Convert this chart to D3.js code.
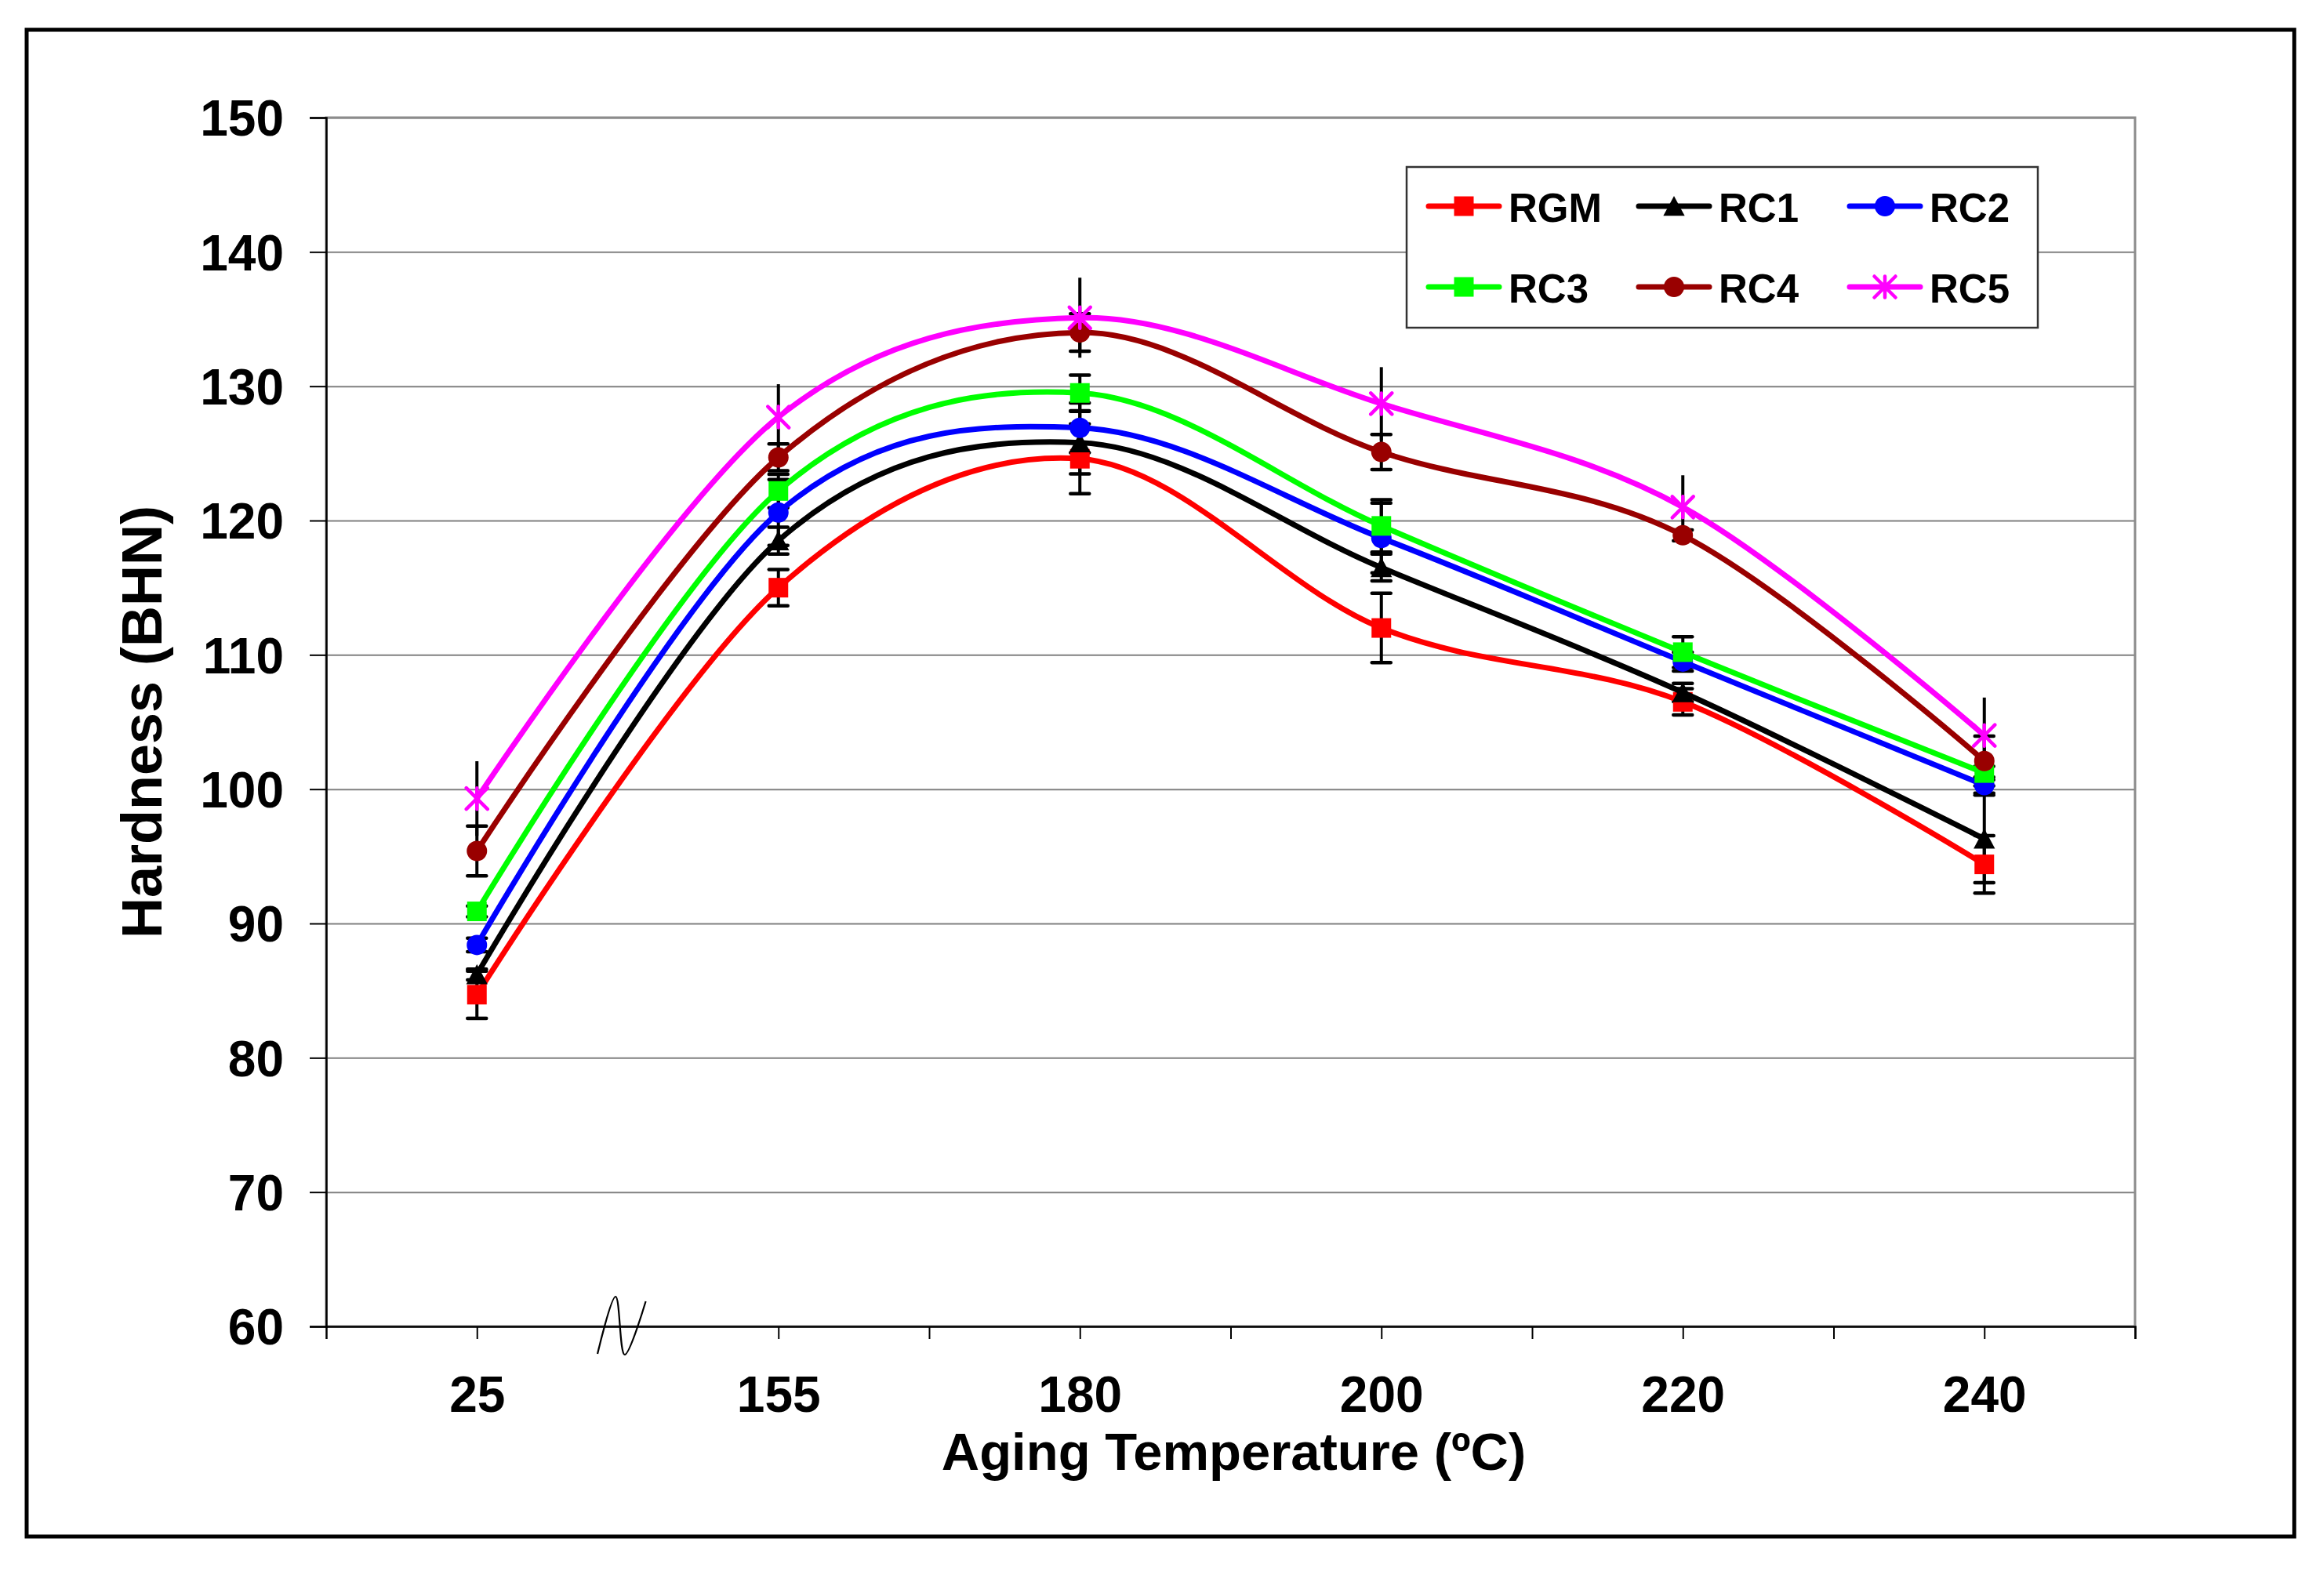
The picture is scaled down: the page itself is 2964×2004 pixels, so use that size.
<!DOCTYPE html>
<html>
<head>
<meta charset="utf-8">
<script src="https://cdn.jsdelivr.net/npm/d3@7/dist/d3.min.js"></script>
<style>
  html, body { margin: 0; padding: 0; background: #fff; }
  svg { display: block; }
  text { font-family: "Liberation Sans", Arial, sans-serif; font-weight: bold; fill: #000; }
</style>
</head>
<body>
<svg id="chart" width="2964" height="2004"></svg>
<script>
// ---------------- data ----------------
const categories = ["25", "155", "180", "200", "220", "240"];
const yTicks = [60, 70, 80, 90, 100, 110, 120, 130, 140, 150];
const seriesNames = ["RGM", "RC1", "RC2", "RC3", "RC4", "RC5"];
const rgm = [84.7, 115.0, 124.6, 112.0, 106.5, 94.4];
const rc1 = [86.2, 118.5, 125.8, 116.5, 107.2, 96.3];
const rc2 = [88.4, 120.6, 126.9, 118.7, 109.5, 100.3];
const rc3 = [90.9, 122.2, 129.5, 119.6, 110.2, 101.2];
const rc4 = [95.4, 124.7, 134.0, 125.1, 118.9, 102.1];
const rc5 = [99.3, 127.7, 135.1, 128.7, 121.0, 104.0];
const rgmErr = [1.76, 1.35, 2.6, 2.58, 0.98, 2.14];
const rc1Err = [0.4, 1.0, 2.33, 1.0, 0.68, 3.26];
const rc2Err = [0.5, 2.45, 1.85, 2.6, 0.7, 0.6];
const rc3Err = [0.4, 1.25, 1.33, 1.95, 1.14, 0.5];
const rc4Err = [1.85, 1.0, 1.4, 1.3, 0.4, 1.85];
const rc5Err = [2.78, 2.45, 2.98, 2.72, 2.37, 2.82];

// ---------------- styling ----------------
const colors = ["#FF0000", "#000000", "#0000FF", "#00FF00", "#990000", "#FF00FF"];
const markerKinds = ["square", "triangle", "circle", "square", "circle", "star"];
const hasCaps = [true, true, true, true, true, false];
const values = [rgm, rc1, rc2, rc3, rc4, rc5];
const errors = [rgmErr, rc1Err, rc2Err, rc3Err, rc4Err, rc5Err];

const L = 416, R = 2723, T = 150, B = 1692;
const svg = d3.select("#chart");
svg.append("rect").attr("width", 2964).attr("height", 2004).attr("fill", "#fff");

// outer border
svg.append("rect").attr("x", 34).attr("y", 38).attr("width", 2892).attr("height", 1922)
  .attr("fill", "none").attr("stroke", "#000").attr("stroke-width", 5);

const x = d3.scaleLinear().domain([-0.5, 5.5]).range([L, R]);
const y = d3.scaleLinear().domain([60, 150]).range([B, T]);

// gridlines
svg.append("g").attr("transform", `translate(${L},0)`)
  .call(d3.axisLeft(y).tickValues(yTicks.slice(1)).tickSize(-(R - L)).tickFormat(""))
  .call(g => g.select(".domain").remove())
  .call(g => g.selectAll("line").attr("stroke", "#808080").attr("stroke-width", 2));

// plot frame
svg.append("rect").attr("x", L).attr("y", T).attr("width", R - L).attr("height", B - T)
  .attr("fill", "none").attr("stroke", "#8c8c8c").attr("stroke-width", 3);

// y axis ticks
svg.append("g").attr("transform", `translate(${L},0)`)
  .call(d3.axisLeft(y).tickValues(yTicks).tickSize(21).tickFormat(""))
  .call(g => g.select(".domain").attr("stroke", "#000").attr("stroke-width", 2.5))
  .call(g => g.selectAll("line").attr("stroke", "#000").attr("stroke-width", 2));

// y labels
svg.append("g").attr("transform", `translate(${L},0)`)
  .call(d3.axisLeft(y).tickValues(yTicks).tickSize(0).tickPadding(54))
  .call(g => g.select(".domain").remove())
  .call(g => g.selectAll("text").attr("font-size", 64).attr("dy", "0.355em")
    .attr("font-family", "'Liberation Sans', Arial, sans-serif").attr("font-weight", "bold"));

// x axis ticks (half-category ticks, the one at the break is hidden)
const xTickVals = d3.range(0, 12).map(i => i * 0.5).filter(v => v !== 0.5);
svg.append("g").attr("transform", `translate(0,${B})`)
  .call(d3.axisBottom(x).tickValues(xTickVals).tickSize(16).tickFormat(""))
  .call(g => g.select(".domain").attr("stroke", "#000").attr("stroke-width", 2.5))
  .call(g => g.selectAll("line").attr("stroke", "#000").attr("stroke-width", 2));

// x labels
svg.append("g").attr("transform", `translate(0,${B})`)
  .call(d3.axisBottom(x).tickValues(d3.range(categories.length)).tickSize(0).tickPadding(64)
    .tickFormat(i => categories[i]))
  .call(g => g.select(".domain").remove())
  .call(g => g.selectAll("text").attr("font-size", 64)
    .attr("font-family", "'Liberation Sans', Arial, sans-serif").attr("font-weight", "bold"));

// axis break symbol
const brk = [[0.40, 1727], [0.46, 1654], [0.49, 1728], [0.56, 1660]];
svg.append("path")
  .attr("d", d3.line().x(d => x(d[0])).y(d => d[1]).curve(d3.curveCatmullRom.alpha(0.5))(brk))
  .attr("fill", "none").attr("stroke", "#000").attr("stroke-width", 2.2);

// axis titles
svg.append("text").attr("x", (L + R) / 2 + 4).attr("y", 1875).attr("text-anchor", "middle")
  .attr("font-size", 67).text("Aging Temperature (ºC)");
svg.append("text").attr("transform", "translate(206,921) rotate(-90)").attr("text-anchor", "middle")
  .attr("font-size", 72).text("Hardness (BHN)");

// ---------------- marker symbols ----------------
const triangleSym = { draw(ctx, size) { const h = Math.sqrt(size) / 2; ctx.moveTo(0, -h * 1.0); ctx.lineTo(h * 1.05, h * 0.95); ctx.lineTo(-h * 1.05, h * 0.95); ctx.closePath(); } };
const starSym = { draw(ctx, size) { const h = Math.sqrt(size) / 2; ctx.moveTo(0, -h); ctx.lineTo(0, h); ctx.moveTo(-h, -h); ctx.lineTo(h, h); ctx.moveTo(-h, h); ctx.lineTo(h, -h); } };
function markerPath(kind, scale) {
  const s = scale || 1;
  if (kind === "square") return d3.symbol().type(d3.symbolSquare).size(25 * 25 * s * s)();
  if (kind === "circle") return d3.symbol().type(d3.symbolCircle).size(Math.PI * 13 * 13 * s * s)();
  if (kind === "triangle") return d3.symbol().type(triangleSym).size(26 * 26 * s * s)();
  return d3.symbol().type(starSym).size(27 * 27 * s * s)();
}
function drawMarker(g, kind, color, cx, cy, scale) {
  const p = g.append("path").attr("d", markerPath(kind, scale)).attr("transform", `translate(${cx},${cy})`);
  if (kind === "star") p.attr("fill", "none").attr("stroke", color).attr("stroke-width", 4.5).attr("stroke-linecap", "round");
  else p.attr("fill", color);
}

// ---------------- error bars ----------------
const eg = svg.append("g");
values.forEach((vals, s) => {
  vals.forEach((v, i) => {
    const e = errors[s][i];
    const cx = x(i);
    eg.append("line").attr("x1", cx).attr("x2", cx).attr("y1", y(v - e)).attr("y2", y(v + e))
      .attr("stroke", "#000").attr("stroke-width", 4);
    if (hasCaps[s]) {
      [v - e, v + e].forEach(w => {
        eg.append("line").attr("x1", cx - 12).attr("x2", cx + 12).attr("y1", y(w)).attr("y2", y(w))
          .attr("stroke", "#000").attr("stroke-width", 4.5).attr("stroke-linecap", "round");
      });
    }
  });
});

// ---------------- series ----------------
const line = d3.line().x((d, i) => x(i)).y(d => y(d)).curve(d3.curveCardinal.tension(0));
values.forEach((vals, s) => {
  const g = svg.append("g");
  g.append("path").attr("d", line(vals)).attr("fill", "none").attr("stroke", colors[s])
    .attr("stroke-width", 7).attr("stroke-linecap", "round").attr("stroke-linejoin", "round");
  vals.forEach((v, i) => drawMarker(g, markerKinds[s], colors[s], x(i), y(v), 1));
});

// ---------------- legend ----------------
const lg = svg.append("g");
lg.append("rect").attr("x", 1794).attr("y", 213).attr("width", 805).attr("height", 205)
  .attr("fill", "#fff").attr("stroke", "#333").attr("stroke-width", 2.5);
const colX = [1822, 2090, 2359];
const rowY = [263, 366];
seriesNames.forEach((name, s) => {
  const cx = colX[s % 3], cy = rowY[Math.floor(s / 3)];
  lg.append("line").attr("x1", cx).attr("x2", cx + 90).attr("y1", cy).attr("y2", cy)
    .attr("stroke", colors[s]).attr("stroke-width", 7).attr("stroke-linecap", "round");
  drawMarker(lg, markerKinds[s], colors[s], cx + 45, cy, 1);
  lg.append("text").attr("x", cx + 102).attr("y", cy + 20).attr("font-size", 51).text(name);
});
</script>
</body>
</html>
